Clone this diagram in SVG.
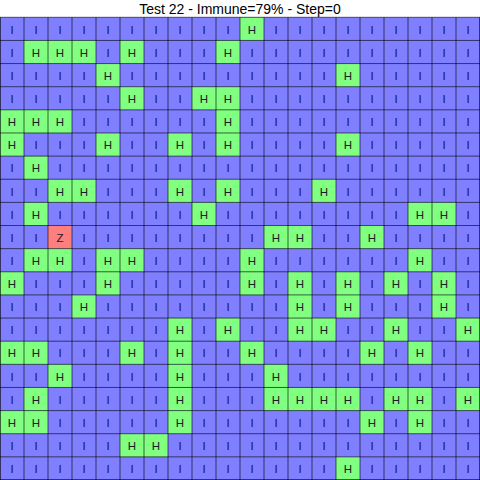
<svg xmlns="http://www.w3.org/2000/svg" width="480" height="480" viewBox="0 0 480 480">
<style>
.bg{fill:#ffffff}
.grid{fill:#7f7fff}
.h{fill:#80ff80}
.z{fill:#ff7f7f}
.gl{stroke:#000;stroke-opacity:0.6;stroke-width:1;fill:none}
.t{font-family:"Liberation Sans",Arial,sans-serif;font-size:11.5px;fill:#1a1a2a;text-anchor:middle}
.title{font-family:"Liberation Sans",Arial,sans-serif;font-size:14px;fill:#000;text-anchor:middle}
</style>
<rect class="bg" x="0" y="0" width="480" height="480"/>
<text class="title" x="240" y="14">Test 22 - Immune=79% - Step=0</text>
<g id="cells">
<rect class="grid" x="0" y="17.3" width="480" height="462.7"/>
<g transform="translate(0,17.30)"><rect class="h" x="240" y="0" width="24" height="23.135"/></g>
<g transform="translate(0,40.44)"><rect class="h" x="24" y="0" width="72" height="23.135"/><rect class="h" x="120" y="0" width="24" height="23.135"/><rect class="h" x="216" y="0" width="24" height="23.135"/></g>
<g transform="translate(0,63.57)"><rect class="h" x="96" y="0" width="24" height="23.135"/><rect class="h" x="336" y="0" width="24" height="23.135"/></g>
<g transform="translate(0,86.71)"><rect class="h" x="120" y="0" width="24" height="23.135"/><rect class="h" x="192" y="0" width="48" height="23.135"/></g>
<g transform="translate(0,109.84)"><rect class="h" x="0" y="0" width="72" height="23.135"/><rect class="h" x="216" y="0" width="24" height="23.135"/></g>
<g transform="translate(0,132.98)"><rect class="h" x="0" y="0" width="24" height="23.135"/><rect class="h" x="96" y="0" width="24" height="23.135"/><rect class="h" x="168" y="0" width="24" height="23.135"/><rect class="h" x="216" y="0" width="24" height="23.135"/><rect class="h" x="336" y="0" width="24" height="23.135"/></g>
<g transform="translate(0,156.11)"><rect class="h" x="24" y="0" width="24" height="23.135"/></g>
<g transform="translate(0,179.25)"><rect class="h" x="48" y="0" width="48" height="23.135"/><rect class="h" x="168" y="0" width="24" height="23.135"/><rect class="h" x="216" y="0" width="24" height="23.135"/><rect class="h" x="312" y="0" width="24" height="23.135"/></g>
<g transform="translate(0,202.38)"><rect class="h" x="24" y="0" width="24" height="23.135"/><rect class="h" x="192" y="0" width="24" height="23.135"/><rect class="h" x="408" y="0" width="48" height="23.135"/></g>
<g transform="translate(0,225.52)"><rect class="z" x="48" y="0" width="24" height="23.135"/><rect class="h" x="264" y="0" width="48" height="23.135"/><rect class="h" x="360" y="0" width="24" height="23.135"/></g>
<g transform="translate(0,248.65)"><rect class="h" x="24" y="0" width="48" height="23.135"/><rect class="h" x="96" y="0" width="48" height="23.135"/><rect class="h" x="240" y="0" width="24" height="23.135"/><rect class="h" x="408" y="0" width="24" height="23.135"/></g>
<g transform="translate(0,271.79)"><rect class="h" x="0" y="0" width="24" height="23.135"/><rect class="h" x="96" y="0" width="24" height="23.135"/><rect class="h" x="240" y="0" width="24" height="23.135"/><rect class="h" x="288" y="0" width="24" height="23.135"/><rect class="h" x="336" y="0" width="24" height="23.135"/><rect class="h" x="384" y="0" width="24" height="23.135"/><rect class="h" x="432" y="0" width="24" height="23.135"/></g>
<g transform="translate(0,294.92)"><rect class="h" x="72" y="0" width="24" height="23.135"/><rect class="h" x="288" y="0" width="24" height="23.135"/><rect class="h" x="336" y="0" width="24" height="23.135"/><rect class="h" x="432" y="0" width="24" height="23.135"/></g>
<g transform="translate(0,318.06)"><rect class="h" x="168" y="0" width="24" height="23.135"/><rect class="h" x="216" y="0" width="24" height="23.135"/><rect class="h" x="288" y="0" width="48" height="23.135"/><rect class="h" x="384" y="0" width="24" height="23.135"/><rect class="h" x="456" y="0" width="24" height="23.135"/></g>
<g transform="translate(0,341.19)"><rect class="h" x="0" y="0" width="48" height="23.135"/><rect class="h" x="120" y="0" width="24" height="23.135"/><rect class="h" x="168" y="0" width="24" height="23.135"/><rect class="h" x="240" y="0" width="24" height="23.135"/><rect class="h" x="360" y="0" width="24" height="23.135"/><rect class="h" x="408" y="0" width="24" height="23.135"/></g>
<g transform="translate(0,364.33)"><rect class="h" x="48" y="0" width="24" height="23.135"/><rect class="h" x="168" y="0" width="24" height="23.135"/><rect class="h" x="264" y="0" width="24" height="23.135"/></g>
<g transform="translate(0,387.46)"><rect class="h" x="24" y="0" width="24" height="23.135"/><rect class="h" x="168" y="0" width="24" height="23.135"/><rect class="h" x="264" y="0" width="96" height="23.135"/><rect class="h" x="384" y="0" width="48" height="23.135"/><rect class="h" x="456" y="0" width="24" height="23.135"/></g>
<g transform="translate(0,410.60)"><rect class="h" x="0" y="0" width="48" height="23.135"/><rect class="h" x="168" y="0" width="24" height="23.135"/><rect class="h" x="360" y="0" width="24" height="23.135"/><rect class="h" x="408" y="0" width="24" height="23.135"/></g>
<g transform="translate(0,433.73)"><rect class="h" x="120" y="0" width="48" height="23.135"/></g>
<g transform="translate(0,456.87)"><rect class="h" x="336" y="0" width="24" height="23.135"/></g>
</g>
<path class="gl" d="M0.5 17.3V480M24 17.3V480M48 17.3V480M72 17.3V480M96 17.3V480M120 17.3V480M144 17.3V480M168 17.3V480M192 17.3V480M216 17.3V480M240 17.3V480M264 17.3V480M288 17.3V480M312 17.3V480M336 17.3V480M360 17.3V480M384 17.3V480M408 17.3V480M432 17.3V480M456 17.3V480M479.5 17.3V480M0 17.3H480M0 40.44H480M0 63.57H480M0 86.71H480M0 109.84H480M0 132.98H480M0 156.11H480M0 179.25H480M0 202.38H480M0 225.52H480M0 248.65H480M0 271.79H480M0 294.92H480M0 318.06H480M0 341.19H480M0 364.33H480M0 387.46H480M0 410.60H480M0 433.73H480M0 456.87H480M0 479.5H480"/>
<g id="labels" class="t">
<text x="12 36 60 84 108 132 156 180 204 228 252 276 300 324 348 372 396 420 444 468" y="33.6">IIIIIIIIIIHIIIIIIIII</text>
<text x="12 36 60 84 108 132 156 180 204 228 252 276 300 324 348 372 396 420 444 468" y="56.74">IHHHIHIIIHIIIIIIIIII</text>
<text x="12 36 60 84 108 132 156 180 204 228 252 276 300 324 348 372 396 420 444 468" y="79.87">IIIIHIIIIIIIIIHIIIII</text>
<text x="12 36 60 84 108 132 156 180 204 228 252 276 300 324 348 372 396 420 444 468" y="103.01">IIIIIHIIHHIIIIIIIIII</text>
<text x="12 36 60 84 108 132 156 180 204 228 252 276 300 324 348 372 396 420 444 468" y="126.14">HHHIIIIIIHIIIIIIIIII</text>
<text x="12 36 60 84 108 132 156 180 204 228 252 276 300 324 348 372 396 420 444 468" y="149.28">HIIIHIIHIHIIIIHIIIII</text>
<text x="12 36 60 84 108 132 156 180 204 228 252 276 300 324 348 372 396 420 444 468" y="172.41">IHIIIIIIIIIIIIIIIIII</text>
<text x="12 36 60 84 108 132 156 180 204 228 252 276 300 324 348 372 396 420 444 468" y="195.55">IIHHIIIHIHIIIHIIIIII</text>
<text x="12 36 60 84 108 132 156 180 204 228 252 276 300 324 348 372 396 420 444 468" y="218.68">IHIIIIIIHIIIIIIIIHHI</text>
<text x="12 36 60 84 108 132 156 180 204 228 252 276 300 324 348 372 396 420 444 468" y="241.82">IIZIIIIIIIIHHIIHIIII</text>
<text x="12 36 60 84 108 132 156 180 204 228 252 276 300 324 348 372 396 420 444 468" y="264.95">IHHIHHIIIIHIIIIIIHII</text>
<text x="12 36 60 84 108 132 156 180 204 228 252 276 300 324 348 372 396 420 444 468" y="288.09">HIIIHIIIIIHIHIHIHIHI</text>
<text x="12 36 60 84 108 132 156 180 204 228 252 276 300 324 348 372 396 420 444 468" y="311.22">IIIHIIIIIIIIHIHIIIHI</text>
<text x="12 36 60 84 108 132 156 180 204 228 252 276 300 324 348 372 396 420 444 468" y="334.36">IIIIIIIHIHIIHHIIHIIH</text>
<text x="12 36 60 84 108 132 156 180 204 228 252 276 300 324 348 372 396 420 444 468" y="357.49">HHIIIHIHIIHIIIIHIHII</text>
<text x="12 36 60 84 108 132 156 180 204 228 252 276 300 324 348 372 396 420 444 468" y="380.63">IIHIIIIHIIIHIIIIIIII</text>
<text x="12 36 60 84 108 132 156 180 204 228 252 276 300 324 348 372 396 420 444 468" y="403.76">IHIIIIIHIIIHHHHIHHIH</text>
<text x="12 36 60 84 108 132 156 180 204 228 252 276 300 324 348 372 396 420 444 468" y="426.9">HHIIIIIHIIIIIIIHIHII</text>
<text x="12 36 60 84 108 132 156 180 204 228 252 276 300 324 348 372 396 420 444 468" y="450.03">IIIIIHHIIIIIIIIIIIII</text>
<text x="12 36 60 84 108 132 156 180 204 228 252 276 300 324 348 372 396 420 444 468" y="473.17">IIIIIIIIIIIIIIHIIIII</text>
</g>
</svg>
